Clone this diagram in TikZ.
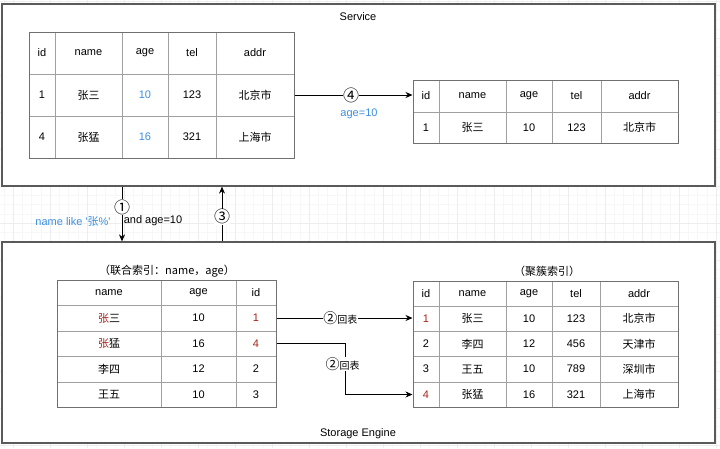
\documentclass[tikz,border=0pt]{standalone}
\usepackage{fontspec}
\setmainfont{Liberation Sans}
\newfontfamily\cjk{Noto Sans CJK SC}
\newcommand\zh[1]{{\cjk #1}}
\usetikzlibrary{arrows.meta}
\definecolor{sqlblue}{HTML}{3D8FE0}
\definecolor{hitred}{HTML}{A8231B}
\definecolor{boxline}{HTML}{5A5A5A}
\definecolor{cellline}{HTML}{A0A0A0}
\definecolor{frameline}{HTML}{707070}
\tikzset{
  outer/.style={draw=boxline, line width=1.2pt, fill=white, inner sep=0pt},
  tframe/.style={draw=frameline, line width=1pt, inner sep=0pt},
  tline/.style={draw=cellline, line width=0.9pt},
  txt/.style={font=\fontsize{11}{13}\selectfont, inner sep=1pt},
  flow/.style={-{Stealth[length=7pt,width=6pt]}, line width=0.8pt},
  tag/.style={txt, fill=white, inner sep=0.3pt},
  gridmajor/.style={draw=black!7, line width=0.5pt},
  gridminor/.style={draw=black!3, line width=0.4pt},
}
\newcommand\num[1]{\zh{\fontsize{16}{16}\selectfont #1}}
\newcommand\back{\zh{\fontsize{14}{14}\selectfont ②}\zh{\fontsize{10}{12}\selectfont 回表}}

\begin{document}
\begin{tikzpicture}[x=1pt, y=-1pt]
  \useasboundingbox (0,0) rectangle (720,448);
  % background grid
  \foreach \x in {3.75,13,...,720} \draw[gridminor] (\x,0) -- (\x,448);
  \foreach \y in {1,10.25,...,448} \draw[gridminor] (0,\y) -- (720,\y);
  \foreach \x in {13,50,...,720} \draw[gridmajor] (\x,0) -- (\x,448);
  \foreach \y in {1,38,...,448} \draw[gridmajor] (0,\y) -- (720,\y);

  % the two layers
  \node[outer, minimum width=713pt, minimum height=182pt] (svc) at (358.5,95) {};
  \node[outer, minimum width=713pt, minimum height=201pt] (eng) at (358.5,342.5) {};
  \node[txt] (svclabel) at (358,17) {Service};
  \node[txt] (englabel) at (358,434) {Storage Engine};

  % Service: rows read back
  \foreach \y in {74,116} \draw[tline] (29,\y) -- (294,\y);
  \foreach \x in {55,122,168,216} \draw[tline] (\x,32) -- (\x,158);
  \node[tframe, minimum width=265pt, minimum height=126pt] (tabA) at (161.5,95) {};
  \foreach \y/\a/\b/\c/\d/\e [count=\r] in {
      53/id/name/age/tel/addr,
      95/1/\zh{张三}/{\textcolor{sqlblue}{10}}/123/\zh{北京市},
      137/4/\zh{张猛}/{\textcolor{sqlblue}{16}}/321/\zh{上海市}} {
    \node[txt] (tA-\r-1) at (42,\y) {\a};
    \node[txt] (tA-\r-2) at (88.5,\y) {\b};
    \node[txt] (tA-\r-3) at (145,\y) {\c};
    \node[txt] (tA-\r-4) at (192,\y) {\d};
    \node[txt] (tA-\r-5) at (255,\y) {\e};
  }

  % Service: result
  \draw[tline] (413,112) -- (678,112);
  \foreach \x in {439,506,552,601} \draw[tline] (\x,80) -- (\x,143);
  \node[tframe, minimum width=265pt, minimum height=63pt] (tabB) at (545.5,111.5) {};
  \foreach \y/\a/\b/\c/\d/\e [count=\r] in {
      96/id/name/age/tel/addr,
      127.5/1/\zh{张三}/10/123/\zh{北京市}} {
    \node[txt] (tB-\r-1) at (426,\y) {\a};
    \node[txt] (tB-\r-2) at (472.5,\y) {\b};
    \node[txt] (tB-\r-3) at (529,\y) {\c};
    \node[txt] (tB-\r-4) at (576.5,\y) {\d};
    \node[txt] (tB-\r-5) at (639.5,\y) {\e};
  }

  % secondary index
  \node[txt] (capC) at (167,271) {\zh{（联合索引：name，age）}};
  \foreach \y in {305,331,356,382} \draw[tline] (57,\y) -- (276,\y);
  \foreach \x in {161,236} \draw[tline] (\x,280) -- (\x,407);
  \node[tframe, minimum width=219pt, minimum height=127pt] (tabC) at (166.5,343.5) {};
  \foreach \y/\a/\b/\c [count=\r] in {
      292.5/name/age/id,
      318/\zh{\textcolor{hitred}{张}三}/10/{\textcolor{hitred}{1}},
      343.5/\zh{\textcolor{hitred}{张}猛}/16/{\textcolor{hitred}{4}},
      369/\zh{李四}/12/2,
      394.5/\zh{王五}/10/3} {
    \node[txt] (tC-\r-1) at (109,\y) {\a};
    \node[txt] (tC-\r-2) at (198.5,\y) {\b};
    \node[txt] (tC-\r-3) at (256,\y) {\c};
  }

  % clustered index
  \node[txt] (capD) at (547,271) {\zh{（聚簇索引）}};
  \foreach \y in {306,331,356,382} \draw[tline] (413,\y) -- (678,\y);
  \foreach \x in {439,506,552,600} \draw[tline] (\x,281) -- (\x,407);
  \node[tframe, minimum width=265pt, minimum height=126pt] (tabD) at (545.5,344) {};
  \foreach \y/\a/\b/\c/\d/\e [count=\r] in {
      293.5/id/name/age/tel/addr,
      318.5/{\textcolor{hitred}{1}}/\zh{张三}/10/123/\zh{北京市},
      344/2/\zh{李四}/12/456/\zh{天津市},
      369/3/\zh{王五}/10/789/\zh{深圳市},
      394.5/{\textcolor{hitred}{4}}/\zh{张猛}/16/321/\zh{上海市}} {
    \node[txt] (tD-\r-1) at (426,\y) {\a};
    \node[txt] (tD-\r-2) at (472.5,\y) {\b};
    \node[txt] (tD-\r-3) at (529,\y) {\c};
    \node[txt] (tD-\r-4) at (576,\y) {\d};
    \node[txt] (tD-\r-5) at (639,\y) {\e};
  }

  % calls between the layers
  \coordinate (down) at (122,0);
  \coordinate (up) at (222,0);
  \draw[flow] (svc.south -| down) -- node[tag, pos=0.375] {\num{①}} (eng.north -| down);
  \node[txt, text=sqlblue] (cond) at (73,221) {name like \textquotesingle\zh{张}\%\textquotesingle};
  \node[txt] (cond2) at (153,221) {and age=10};
  \draw[flow] (eng.north -| up) -- node[tag, pos=0.45] {\num{③}} (svc.south -| up);

  % filter
  \draw[flow] (tabA.east |- tA-2-1) -- node[tag, pos=0.48] {\num{④}} (tabB.west |- tA-2-1);
  \node[txt, text=sqlblue] (agecond) at (359,114) {age=10};

  % back to the table
  \draw[flow] (tabC.east |- tC-2-1) -- node[tag, pos=0.47] {\back} (tabD.west |- tC-2-1);
  \draw[flow] (tabC.east |- tC-3-1) -- ++(69,0) |- node[tag, pos=0.2, xshift=-3pt] {\back} (tabD.west |- tD-5-1);
\end{tikzpicture}
\end{document}
